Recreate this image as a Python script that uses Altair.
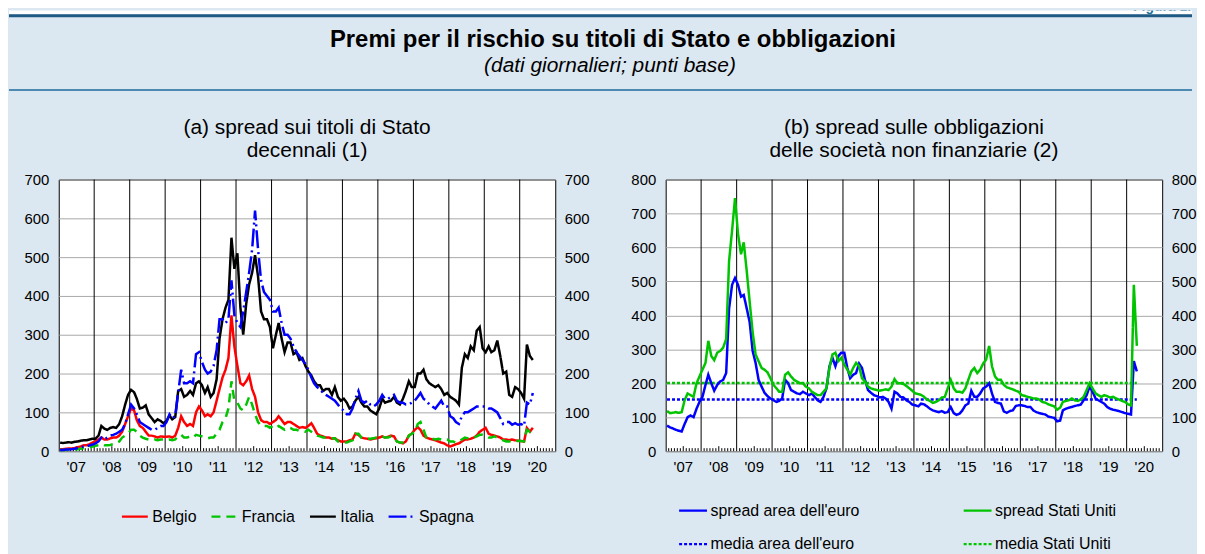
import altair as alt
import pandas as pd

FONT = "Liberation Sans"
BG = "#DCE8F1"
LINE1 = "#1F5A85"
LINE2 = "#4E89B1"
TEAL = "#1E6E9A"
RED, GREEN, BLACK, BLUE = "#FF0000", "#00C400", "#000000", "#0000FF"

TITLE = "Premi per il rischio su titoli di Stato e obbligazioni"
SUBTITLE = "(dati giornalieri; punti base)"
TITLE_A = ["(a) spread sui titoli di Stato", "decennali (1)"]
TITLE_B = ["(b) spread sulle obbligazioni", "delle società non finanziarie (2)"]

year_labels = ["'07", "'08", "'09", "'10", "'11", "'12", "'13", "'14",
               "'15", "'16", "'17", "'18", "'19", "'20"]
label_years = list(range(2007, 2021))
boundary_years = list(range(2008, 2021))
ticks_a = [0, 100, 200, 300, 400, 500, 600, 700]
ticks_b = [0, 100, 200, 300, 400, 500, 600, 700, 800]

# ---------------- panel (a): monthly readings, Jan 2007 - May 2020
paesi = ["Belgio", "Francia", "Italia", "Spagna"]
belgio = [5, 5, 6, 7, 7, 8, 10, 12, 15, 15, 18, 22,
          25, 30, 35, 30, 30, 33, 35, 35, 40, 50, 70, 90,
          110, 105, 80, 65, 60, 50, 40, 40, 38, 35, 38, 37,
          37, 38, 35, 40, 60, 90, 75, 65, 70, 65, 100, 115,
          105, 90, 95, 90, 100, 130, 160, 190, 210, 240, 350, 270,
          220, 175, 170, 180, 195, 160, 140, 100, 80, 75, 75, 70,
          75, 80, 90, 80, 70, 75, 75, 70, 65, 60, 62, 60,
          65, 72, 60, 45, 40, 38, 35, 35, 32, 33, 28, 25,
          25, 25, 28, 30, 45, 42, 35, 33, 32, 30, 32, 33,
          35, 38, 35, 37, 40, 38, 25, 22, 20, 25, 40, 45,
          55, 62, 55, 40, 35, 32, 30, 28, 25, 22, 20, 15,
          12, 15, 18, 20, 25, 30, 30, 32, 35, 40, 50, 55,
          60, 45, 42, 40, 38, 35, 30, 30, 28, 30, 28, 27,
          26, 25, 60, 50, 60]
francia = [3, 3, 3, 4, 4, 4, 5, 6, 8, 8, 10, 12,
           14, 15, 18, 15, 15, 16, 18, 20, 25, 35, 40, 45,
           55, 55, 50, 40, 35, 32, 30, 28, 30, 28, 30, 30,
           28, 30, 28, 30, 40, 42, 35, 35, 38, 35, 42, 40,
           38, 35, 33, 35, 35, 45, 55, 75, 85, 110, 180, 130,
           125, 110, 105, 120, 140, 120, 95, 75, 65, 65, 65, 60,
           65, 60, 65, 60, 55, 60, 60, 55, 55, 52, 52, 50,
           55, 50, 45, 40, 38, 35, 35, 35, 33, 33, 25, 22,
           22, 22, 25, 28, 45, 45, 35, 33, 32, 32, 33, 35,
           35, 38, 35, 35, 38, 35, 25, 22, 22, 25, 40, 45,
           50, 70, 75, 55, 35, 32, 32, 30, 32, 30, 28, 30,
           25, 25, 22, 25, 30, 35, 33, 33, 35, 38, 42, 42,
           40, 35, 35, 38, 35, 30, 28, 25, 25, 27, 25, 27,
           26, 25, 55, 50, 55]
italia = [22, 21, 22, 23, 22, 24, 25, 27, 28, 28, 30, 32,
          32, 40, 65, 58, 55, 60, 62, 60, 70, 90, 120, 145,
          158, 152, 135, 110, 112, 118, 95, 85, 75, 82, 78, 72,
          78, 92, 82, 88, 155, 160, 140, 145, 155, 145, 175, 180,
          170, 150, 165, 140, 150, 185, 290, 340, 370, 390, 550, 470,
          510, 370, 300, 380, 430, 460, 505, 450, 360, 340, 340, 320,
          265, 300, 330, 290, 255, 280, 280, 250, 255, 235, 240, 220,
          205, 195, 180, 170, 170, 155, 160, 160, 145, 165, 140, 130,
          135, 125, 110, 115, 130, 140, 125, 115, 115, 105, 100, 95,
          110, 135, 125, 128, 130, 140, 125, 120, 135, 155, 180, 165,
          165, 200, 200, 210, 185, 175, 170, 165, 170, 160, 145, 150,
          140, 135, 130, 120, 215, 250, 240, 270, 260, 310, 320, 265,
          255, 270, 255, 260, 285, 245, 200, 205, 145, 140, 165, 160,
          150, 135, 275, 245, 235]
spagna = [3, 3, 4, 4, 5, 6, 8, 10, 12, 12, 15, 17,
          20, 25, 35, 30, 35, 40, 42, 45, 50, 55, 70, 95,
          120, 110, 95, 75, 70, 65, 60, 55, 55, 60, 65, 65,
          75, 95, 85, 90, 150, 210, 175, 175, 180, 175, 250, 255,
          230, 210, 200, 205, 220, 260, 340, 340, 330, 340, 440, 350,
          330, 320, 360, 410, 460, 520, 620, 520, 440, 410, 400, 390,
          360, 360, 370, 330, 300, 300, 290, 270, 255, 245, 235, 225,
          210, 190, 175, 165, 160, 150, 145, 140, 135, 130, 120, 110,
          105, 95, 95, 110, 135, 155, 130, 125, 130, 120, 115, 120,
          130, 145, 135, 135, 140, 145, 130, 125, 125, 120, 120, 125,
          130, 140, 150, 135, 130, 120, 115, 110, 120, 130, 115, 115,
          90, 85, 75, 70, 90, 100, 100, 105, 110, 115, 115, 115,
          115, 110, 110, 105, 100, 85, 70, 75, 75, 68, 72, 68,
          70, 65, 125, 120, 150]

# ---------------- panel (b): monthly readings, Jan 2007 - Apr 2020
serie_b = ["spread area dell'euro", "spread Stati Uniti",
           "media area dell'euro", "media Stati Uniti"]
euro = [75, 70, 67, 63, 60, 58, 80, 100, 105, 100, 125, 145,
        160, 195, 225, 200, 178, 195, 205, 210, 230, 420, 490, 510,
        490, 455, 460, 420, 380, 295, 260, 210, 190, 172, 162, 155,
        150, 145, 148, 155, 210, 200, 180, 175, 170, 168, 175, 170,
        165, 170, 160, 150, 145, 160, 185, 250, 275, 250, 280, 290,
        290, 245, 215, 225, 230, 258, 245, 210, 180, 172, 165, 162,
        158, 160, 155, 145, 125, 175, 170, 160, 158, 150, 145, 137,
        135, 132, 140, 138, 132, 125, 120, 117, 115, 118, 113, 115,
        130, 112, 107, 110, 120, 135, 140, 178, 160, 160, 170, 185,
        190, 200, 170, 145, 142, 140, 117, 113, 118, 120, 133, 135,
        135, 133, 130, 130, 120, 115, 112, 110, 108, 102, 100, 98,
        88, 90, 120, 125, 128, 130, 133, 135, 137, 150, 165, 190,
        175, 155, 150, 145, 140, 130, 125, 122, 120, 118, 115, 112,
        110, 108, 265, 235]
usa = [118, 112, 113, 115, 113, 115, 150, 170, 165, 160, 200, 220,
       240, 260, 325, 280, 268, 290, 295, 305, 330, 560, 650, 745,
       640, 580, 615, 530, 440, 350, 285, 265, 245, 240, 232, 215,
       195, 185, 175, 175, 225, 232, 220, 210, 205, 200, 200, 190,
       185, 175, 170, 165, 165, 175, 185, 245, 285, 290, 265, 275,
       255, 240, 225, 245, 260, 250, 215, 205, 190, 185, 182, 180,
       178, 180, 182, 180, 190, 212, 200, 200, 198, 192, 185, 178,
       170, 168, 166, 160, 152, 148, 142, 145, 150, 158, 160, 185,
       210, 185, 175, 175, 172, 185, 210, 235, 245, 230, 240, 258,
       270, 310, 250, 220, 210, 210, 195, 188, 185, 182, 178, 175,
       165, 163, 160, 158, 155, 155, 152, 145, 143, 138, 135, 132,
       122, 128, 145, 148, 150, 155, 150, 148, 152, 160, 180, 200,
       185, 170, 165, 160, 165, 162, 158, 160, 155, 152, 148, 145,
       138, 135, 490, 310]
media_euro = 152
media_usa = 201

# ---------------- tables
dates_a = pd.date_range("2007-01-01", periods=len(italia), freq="MS") + pd.Timedelta(days=14)
df_a = pd.concat(
    [pd.DataFrame({"data": dates_a, "valore": v, "serie": n})
     for n, v in zip(paesi, [belgio, francia, italia, spagna])],
    ignore_index=True)

dates_b = pd.date_range("2007-01-01", periods=len(euro), freq="MS") + pd.Timedelta(days=14)
df_b = pd.concat([
    pd.DataFrame({"data": [dates_b[0], dates_b[-1]], "valore": [media_euro] * 2, "serie": serie_b[2]}),
    pd.DataFrame({"data": [dates_b[0], dates_b[-1]], "valore": [media_usa] * 2, "serie": serie_b[3]}),
    pd.DataFrame({"data": dates_b, "valore": euro, "serie": serie_b[0]}),
    pd.DataFrame({"data": dates_b, "valore": usa, "serie": serie_b[1]}),
], ignore_index=True)

one = pd.DataFrame({"k": [0]})
years_df = pd.DataFrame({"data": pd.to_datetime([f"{y}-01-01" for y in boundary_years])})
lab_df = pd.DataFrame({"data": pd.to_datetime([f"{y}-07-01" for y in label_years]),
                       "lab": year_labels})
months = [d for d in pd.date_range("2007-02-01", "2020-12-01", freq="MS") if d.month != 1]
mt_df = pd.DataFrame({"data": [d for d in months if d.month != 7]})
jt_df = pd.DataFrame({"data": [d for d in months if d.month == 7]})

PW, PH = 499, 273
HEADER_W = 1139
HEADER_H = 92
BOX_BOTTOM = 378

xscale = alt.Scale(domain=[alt.DateTime(year=2007, month=1, date=1),
                           alt.DateTime(year=2021, month=1, date=1)], nice=False)
X = alt.X("data:T", scale=xscale, axis=None)


def panel(df, domain, colors, dashes, ymax, yticks, box, titles, legend):
    yscale = alt.Scale(domain=[0, ymax], nice=False)
    yl = alt.Axis(orient="left", values=yticks, grid=True, ticks=False, domain=False,
                  labelPadding=10, title=None)
    yr = alt.Axis(orient="right", values=yticks, grid=False, ticks=False, domain=False,
                  labelPadding=9, title=None)
    bound = alt.Chart(one).mark_rect(opacity=0).encode(
        x=alt.value(box[0]), x2=alt.value(box[1]), y=alt.value(box[2]), y2=alt.value(box[3]))
    vlines = alt.Chart(years_df).mark_rule(color="black", strokeWidth=1).encode(x=X)
    mticks = alt.Chart(mt_df).mark_rule(color="black", strokeWidth=1).encode(
        x=X, y=alt.value(PH), y2=alt.value(PH - 3))
    jticks = alt.Chart(jt_df).mark_rule(color="black", strokeWidth=1).encode(
        x=X, y=alt.value(PH), y2=alt.value(PH - 5))
    xlabels = alt.Chart(lab_df).mark_text(font=FONT, fontSize=15, color="black",
                                          align="center", baseline="middle").encode(
        x=X, y=alt.value(PH + 16), text="lab:N")
    lines = alt.Chart(df).mark_line(strokeWidth=2.5).encode(
        x=X,
        y=alt.Y("valore:Q", scale=yscale, axis=yl),
        color=alt.Color("serie:N", scale=alt.Scale(domain=domain, range=colors), legend=legend),
        strokeDash=alt.StrokeDash("serie:N", scale=alt.Scale(domain=domain, range=dashes),
                                  legend=legend),
    )
    raxis = alt.Chart(df).mark_point(opacity=0).encode(
        x=X, y=alt.Y("valore:Q", scale=yscale, axis=yr))
    t1 = alt.Chart(one).mark_text(font=FONT, fontSize=21, color="black", align="center",
                                  baseline="middle").encode(
        x=alt.value(PW / 2), y=alt.value(-52), text=alt.value(titles[0]))
    t2 = alt.Chart(one).mark_text(font=FONT, fontSize=21, color="black", align="center",
                                  baseline="middle").encode(
        x=alt.value(PW / 2), y=alt.value(-29), text=alt.value(titles[1]))
    return alt.layer(bound, vlines, mticks, jticks, xlabels, lines, raxis, t1, t2).resolve_axis(
        y="independent").properties(
        width=PW, height=PH,
        view=alt.ViewBackground(fill="white", stroke="black", strokeWidth=1))


legend_a = alt.Legend(title=None, orient="none", legendX=62, legendY=324,
                      direction="horizontal", columns=4, columnPadding=10,
                      symbolType="stroke", symbolSize=676, symbolStrokeWidth=2.2,
                      labelFontSize=16, labelFont=FONT, labelColor="black",
                      labelOffset=3, padding=0)
legend_b = alt.Legend(title=None, orient="none", legendX=12, legendY=317,
                      direction="horizontal", columns=2, columnPadding=100, rowPadding=10,
                      symbolType="stroke", symbolSize=784, symbolStrokeWidth=2.2,
                      labelFontSize=16, labelFont=FONT, labelColor="black",
                      labelOffset=2, padding=0)

left = panel(df_a, paesi, [RED, GREEN, BLACK, BLUE],
             [[1, 0], [9, 6], [1, 0], [18, 4, 2, 4]],
             700, ticks_a, (-50, 554, -76, BOX_BOTTOM), TITLE_A, legend_a)
right = panel(df_b, serie_b, [BLUE, GREEN, BLUE, GREEN],
              [[1, 0], [1, 0], [3, 2], [3, 2]],
              800, ticks_b, (-54, 531, -76, BOX_BOTTOM), TITLE_B, legend_b)

header = alt.layer(
    alt.Chart(one).mark_rect(color="white").encode(
        x=alt.value(-50), x2=alt.value(HEADER_W), y=alt.value(0), y2=alt.value(4)),
    alt.Chart(one).mark_rect(color=LINE1).encode(
        x=alt.value(-50), x2=alt.value(HEADER_W), y=alt.value(4), y2=alt.value(7)),
    alt.Chart(one).mark_rect(color=LINE2).encode(
        x=alt.value(-50), x2=alt.value(HEADER_W), y=alt.value(79), y2=alt.value(81)),
    alt.Chart(one).mark_rect(opacity=0).encode(
        x=alt.value(-50), x2=alt.value(HEADER_W), y=alt.value(0), y2=alt.value(HEADER_H)),
    alt.Chart(one).mark_text(font=FONT, fontSize=24, fontWeight="bold", color="black",
                             align="center", baseline="middle").encode(
        x=alt.value(557), y=alt.value(30), text=alt.value(TITLE)),
    alt.Chart(one).mark_text(font=FONT, fontSize=21, fontStyle="italic", color="black",
                             align="center", baseline="middle").encode(
        x=alt.value(554), y=alt.value(56), text=alt.value(SUBTITLE)),
    alt.Chart(one).mark_text(font=FONT, fontSize=14, fontWeight="bold", color=TEAL,
                             align="right", baseline="bottom", clip=True).encode(
        x=alt.value(HEADER_W - 1), y=alt.value(4), text=alt.value("Figura 1.")),
).properties(width=HEADER_W, height=HEADER_H)

row = alt.hconcat(left, right, spacing=0).resolve_scale(
    color="independent", strokeDash="independent")

chart = alt.vconcat(header, row, spacing=0).properties(
    padding=0,
    background=BG,
).configure_view(stroke="transparent").configure_axis(
    labelFont=FONT, labelFontSize=15, labelColor="black",
    gridColor="#A8A8A8", gridWidth=1)

chart.save("out.html", embed_options={"renderer": "svg", "actions": False})
